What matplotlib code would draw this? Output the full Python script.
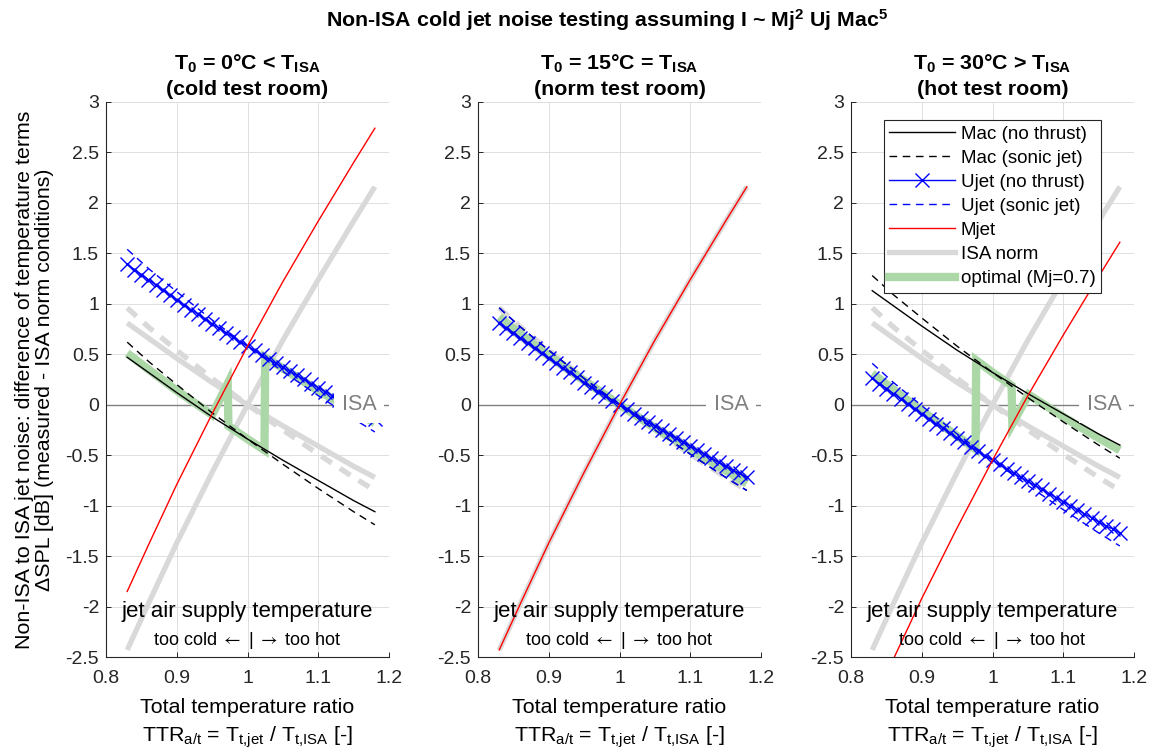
import matplotlib
matplotlib.use('Agg')
import matplotlib.pyplot as plt
from matplotlib.lines import Line2D

plt.rcParams['font.family'] = ['Liberation Sans', 'DejaVu Sans']
plt.rcParams['mathtext.fontset'] = 'custom'
plt.rcParams['mathtext.rm'] = 'Liberation Sans'
plt.rcParams['mathtext.it'] = 'Liberation Sans:italic'
plt.rcParams['mathtext.bf'] = 'Liberation Sans:bold'
plt.rcParams['lines.scale_dashes'] = False
plt.rcParams['axes.unicode_minus'] = False

# ---- data ----
# fine grid: samples carrying the x markers of "Ujet (no thrust)"
ttr = [0.83, 0.84, 0.85, 0.86, 0.87, 0.88, 0.89, 0.90, 0.91, 0.92, 0.93, 0.94,
       0.95, 0.96, 0.97, 0.98, 0.99, 1.00, 1.01, 1.02, 1.03, 1.04, 1.05, 1.06,
       1.07, 1.08, 1.09, 1.10, 1.11, 1.12, 1.13, 1.14, 1.15, 1.16, 1.17, 1.18]
# coarse grid for the other curves
ttr_c = [0.83, 0.86, 0.90, 0.95, 1.00, 1.05, 1.10, 1.15, 1.18]

ujet_nt = {
    'cold': [1.39, 1.34, 1.29, 1.24, 1.19, 1.14, 1.09, 1.04, 0.99, 0.94, 0.90, 0.85,
             0.80, 0.76, 0.71, 0.67, 0.62, 0.58, 0.54, 0.49, 0.45, 0.41, 0.37, 0.33,
             0.29, 0.25, 0.21, 0.17, 0.13, 0.09, 0.05, 0.01, -0.03, -0.07, -0.10, -0.14],
    'norm': [0.81, 0.76, 0.71, 0.66, 0.61, 0.56, 0.51, 0.46, 0.41, 0.36, 0.32, 0.27,
             0.22, 0.18, 0.13, 0.09, 0.04, 0.00, -0.04, -0.09, -0.13, -0.17, -0.21, -0.25,
             -0.29, -0.33, -0.37, -0.41, -0.45, -0.49, -0.53, -0.57, -0.61, -0.65, -0.68, -0.72],
    'hot': [0.26, 0.21, 0.16, 0.11, 0.06, 0.01, -0.04, -0.09, -0.14, -0.19, -0.23, -0.28,
            -0.33, -0.37, -0.42, -0.46, -0.51, -0.55, -0.59, -0.64, -0.68, -0.72, -0.76, -0.80,
            -0.84, -0.88, -0.92, -0.96, -1.00, -1.04, -1.08, -1.12, -1.16, -1.20, -1.23, -1.27],
}
ujet_sj = {
    'cold': [1.54, 1.35, 1.12, 0.84, 0.58, 0.33, 0.09, -0.14, -0.27],
    'norm': [0.96, 0.77, 0.54, 0.26, 0.00, -0.25, -0.49, -0.72, -0.85],
    'hot': [0.41, 0.22, -0.01, -0.29, -0.55, -0.80, -1.04, -1.27, -1.40],
}
mac_nt = {
    'cold': [0.47, 0.32, 0.12, -0.12, -0.34, -0.55, -0.75, -0.95, -1.06],
    'norm': [0.81, 0.66, 0.46, 0.22, 0.00, -0.21, -0.41, -0.61, -0.72],
    'hot': [1.13, 0.98, 0.78, 0.54, 0.32, 0.11, -0.09, -0.29, -0.40],
}
mac_sj = {
    'cold': [0.62, 0.43, 0.20, -0.08, -0.34, -0.59, -0.83, -1.06, -1.19],
    'norm': [0.96, 0.77, 0.54, 0.26, 0.00, -0.25, -0.49, -0.72, -0.85],
    'hot': [1.28, 1.09, 0.86, 0.58, 0.32, 0.07, -0.17, -0.40, -0.53],
}
mjet = {
    'cold': [-1.85, -1.39, -0.79, -0.09, 0.58, 1.22, 1.82, 2.40, 2.74],
    'norm': [-2.43, -1.97, -1.37, -0.67, 0.00, 0.64, 1.24, 1.82, 2.16],
    'hot': [-2.98, -2.52, -1.92, -1.22, -0.55, 0.09, 0.69, 1.27, 1.61],
}
# ISA norm reference curves (same in every panel)
isa_mac_nt = [0.81, 0.66, 0.46, 0.22, 0.00, -0.21, -0.41, -0.61, -0.72]
isa_mac_sj = [0.96, 0.77, 0.54, 0.26, 0.00, -0.25, -0.49, -0.72, -0.85]
isa_mjet = [-2.43, -1.97, -1.37, -0.67, 0.00, 0.64, 1.24, 1.82, 2.16]

# optimal (Mj=0.7) path
opt_x = {
    'cold': [0.83, 0.86, 0.90, 0.95, 0.972, 0.973, 1.00, 1.024, 1.025, 1.05, 1.10, 1.15, 1.18],
    'norm': [0.83, 0.86, 0.90, 0.95, 1.00, 1.05, 1.10, 1.15, 1.18],
    'hot': [0.83, 0.86, 0.90, 0.95, 0.976, 0.977, 1.00, 1.027, 1.028, 1.051, 1.10, 1.15, 1.18],
}
opt_y = {
    'cold': [0.51, 0.35, 0.14, -0.10, 0.21, -0.21, -0.34, -0.45, 0.47, 0.36, 0.14, -0.06, -0.18],
    'norm': [0.87, 0.70, 0.49, 0.24, 0.00, -0.23, -0.44, -0.65, -0.78],
    'hot': [0.31, 0.15, -0.06, -0.31, -0.44, 0.44, 0.32, 0.19, -0.19, 0.10, -0.12, -0.33, -0.45],
}

panels = ['cold', 'norm', 'hot']
titles = [r'$\mathbf{T_0}$ = 0°C < $\mathbf{T_{ISA}}$' + '\n(cold test room)',
          r'$\mathbf{T_0}$ = 15°C = $\mathbf{T_{ISA}}$' + '\n(norm test room)',
          r'$\mathbf{T_0}$ = 30°C > $\mathbf{T_{ISA}}$' + '\n(hot test room)']
xticks = [0.8, 0.9, 1.0, 1.1, 1.2]
xtick_labels = ['0.8', '0.9', '1', '1.1', '1.2']
yticks = [-2.5, -2, -1.5, -1, -0.5, 0, 0.5, 1, 1.5, 2, 2.5, 3]
ytick_labels = ['-2.5', '-2', '-1.5', '-1', '-0.5', '0', '0.5', '1', '1.5', '2', '2.5', '3']

# ---- styles ----
DARK = '#262626'
GRAY_ISA = '#d9d9d9'
GREEN = '#acd8a8'
W, H = 1158, 754
lefts = [106, 478, 851]

fig = plt.figure(figsize=(W / 100, H / 100), dpi=100)

for i, key in enumerate(panels):
    ax = fig.add_axes([lefts[i] / W, (H - 657) / H, 283 / W, 555 / H])
    ax.set_xlim(0.8, 1.2)
    ax.set_ylim(-2.5, 3)

    ax.axhline(0, color='#808080', lw=1.0, zorder=1.5)
    ax.plot(ttr_c, isa_mac_nt, color=GRAY_ISA, lw=3.8, solid_capstyle='butt', zorder=2)
    ax.plot(ttr_c, isa_mac_sj, color=GRAY_ISA, lw=3.8, ls=(0, (9, 7)), zorder=2)
    ax.plot(ttr_c, isa_mjet, color=GRAY_ISA, lw=3.8, solid_capstyle='butt', zorder=2)
    ax.plot(opt_x[key], opt_y[key], color=GREEN, lw=6, solid_joinstyle='miter',
            solid_capstyle='butt', zorder=2.1)
    ax.plot(ttr_c, mac_nt[key], color='black', lw=1.0, zorder=2.2)
    ax.plot(ttr_c, mac_sj[key], color='black', lw=1.0, ls=(0, (5.5, 4)), zorder=2.2)
    ax.plot(ttr, ujet_nt[key], color='blue', lw=1.0, marker='x', ms=10.5, mew=1.0, zorder=2.3)
    ax.plot(ttr_c, ujet_sj[key], color='blue', lw=1.0, ls=(0, (5.5, 4)), zorder=2.3)
    ax.plot(ttr_c, mjet[key], color='red', lw=1.0, zorder=2.4)

    ax.text(1.158, 0, 'ISA', color='#808080', fontsize=15.5, ha='center', va='center',
            bbox=dict(facecolor='white', edgecolor='none', pad=5.5), zorder=3)
    ax.text(1.0, -2.05, 'jet air supply temperature', fontsize=16, ha='center', va='center')
    ax.text(1.0, -2.34, r'too cold $\leftarrow$ | $\rightarrow$ too hot', fontsize=13,
            ha='center', va='center', math_fontfamily='stixsans')

    ax.set_xticks(xticks)
    ax.set_xticklabels(xtick_labels)
    ax.set_yticks(yticks)
    ax.set_yticklabels(ytick_labels)
    ax.tick_params(direction='in', length=3.5, width=0.7, colors=DARK, labelsize=14)
    ax.tick_params(axis='x', pad=9.5)
    ax.tick_params(axis='y', pad=5)
    ax.grid(True, color='#dedede', lw=0.7)
    ax.set_axisbelow(True)
    for s in ['top', 'right']:
        ax.spines[s].set_visible(False)
    for s in ['left', 'bottom']:
        ax.spines[s].set_color(DARK)
        ax.spines[s].set_linewidth(0.8)

    ax.set_title(titles[i], fontsize=15.4, fontweight='bold', pad=5, linespacing=1.35)
    ax.set_xlabel('Total temperature ratio\n'
                  r'TTR$_\mathrm{a/t}$ = T$_\mathrm{t{,}jet}$ / T$_\mathrm{t{,}ISA}$ [-]',
                  fontsize=15.4, labelpad=8, linespacing=1.4)
    if i == 0:
        ax.set_ylabel('Non-ISA to ISA jet noise: difference of temperature terms\n'
                      'ΔSPL [dB] (measured - ISA norm conditions)',
                      fontsize=15.4, labelpad=8, linespacing=1.1)

    if key == 'hot':
        handles = [
            Line2D([], [], color='black', lw=1.0),
            Line2D([], [], color='black', lw=1.0, ls=(0, (5.5, 4))),
            Line2D([], [], color='blue', lw=1.0, marker='x', ms=10.5, mew=1.0),
            Line2D([], [], color='blue', lw=1.0, ls=(0, (5.5, 4))),
            Line2D([], [], color='red', lw=1.0),
            Line2D([], [], color=GRAY_ISA, lw=3.8),
            Line2D([], [], color=GREEN, lw=6),
        ]
        labels = ['Mac (no thrust)', 'Mac (sonic jet)', 'Ujet (no thrust)',
                  'Ujet (sonic jet)', 'Mjet', 'ISA norm', 'optimal (Mj=0.7)']
        leg = ax.legend(handles, labels, loc='upper right', bbox_to_anchor=(0.883, 0.9676),
                        borderaxespad=0, fontsize=13.5, numpoints=1, handlelength=3.5,
                        handletextpad=0.3, labelspacing=0.37, fancybox=False,
                        framealpha=1, borderpad=0.3)
        leg.get_frame().set_edgecolor(DARK)
        leg.get_frame().set_linewidth(0.8)

fig.text(607 / W, 1 - 20 / H,
         r'Non-ISA cold jet noise testing assuming I ~ Mj$^\mathbf{2}$ Uj Mac$^\mathbf{5}$',
         fontsize=15.4, fontweight='bold', ha='center', va='center')

fig.savefig('out.png', dpi=100)
